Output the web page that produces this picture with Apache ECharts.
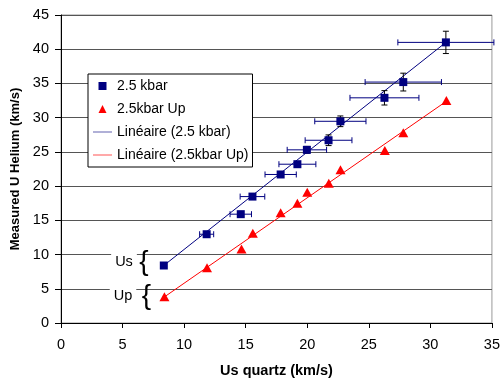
<!DOCTYPE html>
<html>
<head>
<meta charset="utf-8">
<script src="https://cdn.jsdelivr.net/npm/echarts@6/dist/echarts.min.js"></script>
<style>
  html, body { margin: 0; padding: 0; background: #fff; }
  #chart { width: 503px; height: 383px; }
</style>
</head>
<body>
<div id="chart"></div>
<script>
// values
var usX = [8.35, 11.83, 14.6, 15.55, 17.84, 19.2, 19.97, 21.73, 22.69, 26.27, 27.8, 31.26];
var usY = [8.4, 12.97, 15.9, 18.47, 21.7, 23.2, 25.3, 26.7, 29.47, 32.9, 35.2, 41.0];
var usXErr = [0, 0.57, 0.87, 1.0, 1.27, 1.5, 1.6, 1.9, 2.08, 2.8, 3.1, 3.9];
var usYErr = [0, 0.2, 0.25, 0.3, 0.35, 0.4, 0.5, 0.78, 0.78, 1.05, 1.3, 1.63];

var upX = [8.4, 11.86, 14.66, 15.58, 17.84, 19.2, 20.0, 21.75, 22.7, 26.3, 27.8, 31.3];
var upY = [3.85, 8.07, 10.8, 13.1, 16.1, 17.5, 19.1, 20.4, 22.4, 25.2, 27.8, 32.5];

// ends of the two linear fits (Linéaire)
var fitUs = [[8.35, 8.4], [31.26, 41.0]];
var fitUp = [[8.35, 3.75], [31.3, 32.4]];

var seriesNames = ['2.5 kbar', '2.5kbar Up', 'Linéaire (2.5 kbar)', 'Linéaire (2.5kbar Up)'];

var FONT = 'Liberation Sans, Arial, sans-serif';

function pairs(xs, ys) {
    return xs.map(function (x, i) { return [x, ys[i]]; });
}

var errData = usX.map(function (x, i) { return [x, usY[i], usXErr[i], usYErr[i]]; });

var chart = echarts.init(document.getElementById('chart'));

var option = {
    animation: false,
    textStyle: { fontFamily: FONT, color: '#000' },
    grid: {
        left: 61, right: 9, top: 15, bottom: 60,
        show: true, borderColor: '#999', borderWidth: 1, backgroundColor: 'transparent'
    },
    legend: {
        orient: 'vertical',
        left: 88, top: 74,
        data: [
            { name: seriesNames[0], icon: 'path://M0,0L1,0L1,1L0,1Z' },
            { name: seriesNames[1], icon: 'path://M0.5,0L1,1L0,1Z' },
            { name: seriesNames[2], icon: 'path://M0,0L20,0L20,1L0,1Z', itemStyle: { color: '#5a5aac' } },
            { name: seriesNames[3], icon: 'path://M0,0L20,0L20,1L0,1Z', itemStyle: { color: '#ff4a4a' } }
        ],
        backgroundColor: '#fff',
        borderColor: '#000',
        borderWidth: 1,
        padding: [5, 4, 5, 5],
        itemGap: 9,
        itemWidth: 19,
        itemHeight: 8,
        textStyle: { fontSize: 14, color: '#000', fontFamily: FONT }
    },
    xAxis: {
        type: 'value', min: 0, max: 35, interval: 5,
        name: 'Us quartz (km/s)', nameLocation: 'middle', nameGap: 40,
        nameTextStyle: { fontWeight: 'bold', fontSize: 14.5, color: '#000' },
        axisLine: { lineStyle: { color: '#000' } },
        axisTick: { show: true, length: 5, lineStyle: { color: '#000' } },
        axisLabel: { fontSize: 14.5, color: '#000', margin: 14 },
        splitLine: { show: false }
    },
    yAxis: {
        type: 'value', min: 0, max: 45, interval: 5,
        name: 'Measured U Helium (km/s)', nameLocation: 'middle', nameGap: 35,
        nameTextStyle: { fontWeight: 'bold', fontSize: 13, color: '#000' },
        axisLine: { show: true, lineStyle: { color: '#000' } },
        axisTick: { show: true, length: 6, lineStyle: { color: '#000' } },
        axisLabel: { fontSize: 14.5, color: '#000', margin: 12 },
        splitLine: { show: true, lineStyle: { color: '#555', width: 1 } }
    },
    series: [
        {
            // error bars
            type: 'custom',
            data: errData,
            encode: { x: 0, y: 1 },
            clip: false,
            z: 3,
            silent: true,
            renderItem: function (params, api) {
                var x = api.value(0), y = api.value(1), ex = api.value(2), ey = api.value(3);
                var l = api.coord([x - ex, y]);
                var r = api.coord([x + ex, y]);
                var t = api.coord([x, y + ey]);
                var b = api.coord([x, y - ey]);
                var blue = { stroke: '#000080', lineWidth: 1 };
                var black = { stroke: '#000', lineWidth: 1 };
                var kids = [];
                if (ex > 0) {
                    kids.push({ type: 'line', shape: { x1: l[0], y1: l[1], x2: r[0], y2: r[1] }, style: blue });
                    kids.push({ type: 'line', shape: { x1: l[0], y1: l[1] - 3, x2: l[0], y2: l[1] + 3 }, style: blue });
                    kids.push({ type: 'line', shape: { x1: r[0], y1: r[1] - 3, x2: r[0], y2: r[1] + 3 }, style: blue });
                }
                if (ey > 0) {
                    kids.push({ type: 'line', shape: { x1: t[0], y1: t[1], x2: b[0], y2: b[1] }, style: black });
                    kids.push({ type: 'line', shape: { x1: t[0] - 3, y1: t[1], x2: t[0] + 3, y2: t[1] }, style: black });
                    kids.push({ type: 'line', shape: { x1: b[0] - 3, y1: b[1], x2: b[0] + 3, y2: b[1] }, style: black });
                }
                return { type: 'group', children: kids };
            }
        },
        {
            name: seriesNames[2],
            type: 'line',
            data: fitUs,
            symbol: 'none',
            z: 2,
            lineStyle: { color: '#000080', width: 1 },
            itemStyle: { color: '#000080' }
        },
        {
            name: seriesNames[3],
            type: 'line',
            data: fitUp,
            symbol: 'none',
            z: 2,
            lineStyle: { color: '#ff0000', width: 1 },
            itemStyle: { color: '#ff0000' }
        },
        {
            name: seriesNames[0],
            type: 'scatter',
            data: pairs(usX, usY),
            symbol: 'rect',
            symbolSize: 8,
            z: 4,
            itemStyle: { color: '#000080', opacity: 1 }
        },
        {
            name: seriesNames[1],
            type: 'scatter',
            data: pairs(upX, upY),
            symbol: 'triangle',
            symbolSize: [10, 9],
            z: 4,
            itemStyle: { color: '#ff0000', opacity: 1 }
        }
    ],
    graphic: [
        { type: 'text', x: 124, y: 262, z: 10, style: { text: 'Us', font: '14.5px ' + FONT, fill: '#000', align: 'center', verticalAlign: 'middle', backgroundColor: '#fff', padding: [3, 4] } },
        { type: 'text', x: 144, y: 262, z: 10, style: { text: '{', font: '28px ' + FONT, fill: '#000', align: 'center', verticalAlign: 'middle' } },
        { type: 'text', x: 123, y: 296, z: 10, style: { text: 'Up', font: '14.5px ' + FONT, fill: '#000', align: 'center', verticalAlign: 'middle', backgroundColor: '#fff', padding: [3, 4] } },
        { type: 'text', x: 146.5, y: 296, z: 10, style: { text: '{', font: '28px ' + FONT, fill: '#000', align: 'center', verticalAlign: 'middle' } }
    ]
};

chart.setOption(option);
</script>
</body>
</html>
